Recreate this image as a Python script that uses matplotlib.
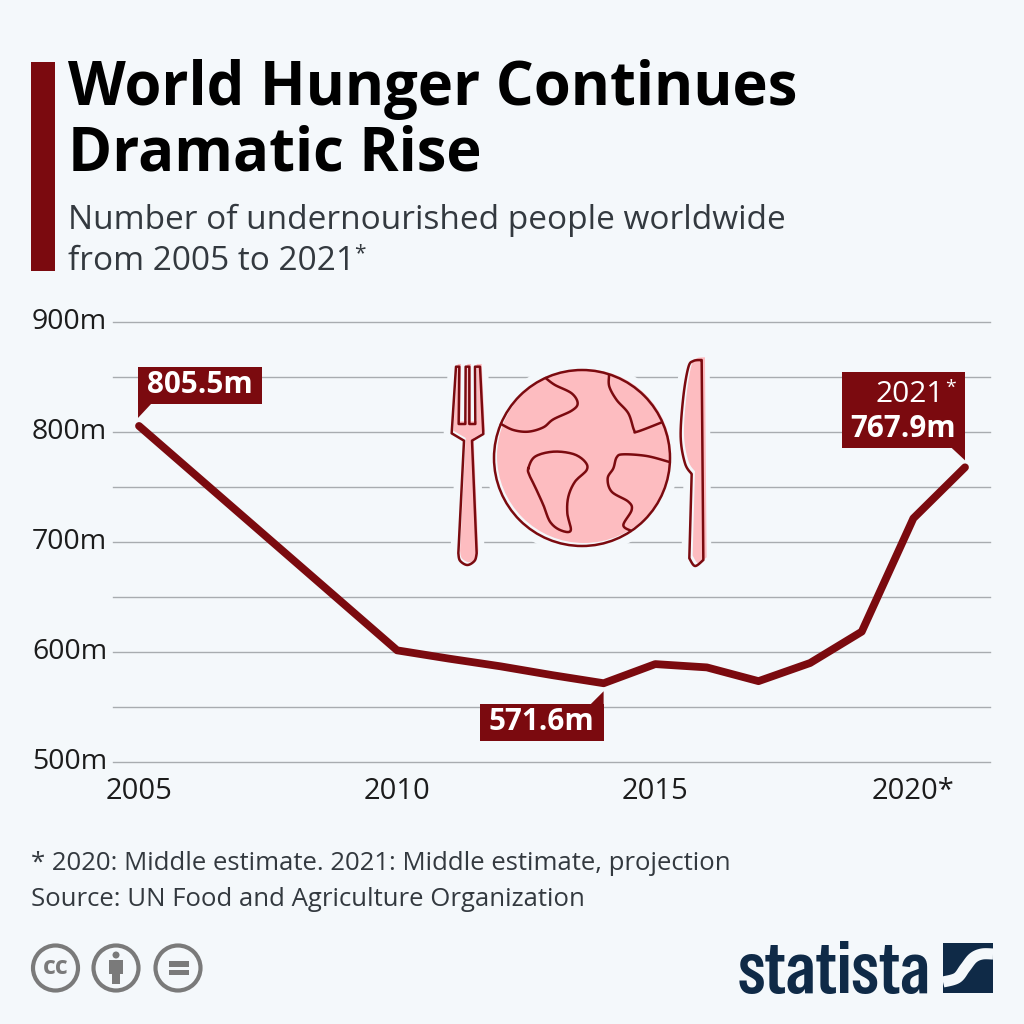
"""World hunger line chart, Statista style."""

import matplotlib

matplotlib.use("Agg")
import numpy as np
from matplotlib import pyplot as plt  # noqa: E402
from matplotlib.patches import Circle, Polygon, Rectangle  # noqa: E402

years = [2005, 2010, 2011, 2012, 2013, 2014, 2015, 2016, 2017, 2018, 2019, 2020, 2021]
undernourished = [805.5, 601.5, 594, 587, 579, 571.6, 589, 586, 573.5, 590, 618.5, 721.5, 767.9]
major_ticks = [500, 600, 700, 800, 900]
minor_ticks = [550, 650, 750, 850]
y_labels = ["500m", "600m", "700m", "800m", "900m"]
x_ticks = [2005, 2010, 2015, 2020]
x_labels = ["2005", "2010", "2015", "2020*"]

BG = "#f4f8fb"
RED = "#7b0a0f"
PINK = "#fdbcc0"
INK = "#1c1c1c"
SUB = "#33393f"
NAVY = "#0f2a47"
GREY = "#7a7a7a"
FONT = "Open Sans"

plt.rcParams["font.family"] = [FONT, "DejaVu Sans"]

fig = plt.figure(figsize=(10.24, 10.24), dpi=100, facecolor=BG)


def fig_rect(left, top, right, bottom):
    return [left / 1024, 1 - bottom / 1024, (right - left) / 1024, (bottom - top) / 1024]


# chart axes, gridlines run from x=113 to x=990
ax = fig.add_axes(fig_rect(113, 322, 990, 762), facecolor="none")
ax.set_xlim(2005 - 26 / 51.6, 2021 + 25 / 51.6)
ax.set_ylim(500, 900)
for spine in ax.spines.values():
    spine.set_visible(False)
ax.set_yticks(major_ticks)
ax.set_yticklabels([])
ax.set_xticks(x_ticks)
ax.set_xticklabels(x_labels, fontsize=21, color=INK)
ax.tick_params(length=0, pad=11)
for value in major_ticks + minor_ticks:
    ax.axhline(value, color="#a8acb0", lw=1.0, zorder=1, clip_on=False)
ax.plot(years, undernourished, color=RED, lw=5.6, solid_joinstyle="round",
        solid_capstyle="round", zorder=5)

# overlay in reference pixels for title block, icon and callouts
over = fig.add_axes([0, 0, 1, 1], facecolor="none", zorder=3)
over.set_xlim(0, 1024)
over.set_ylim(1024, 0)
over.axis("off")


def data_px(year, value):
    x, y = ax.transData.transform((year, value))
    return x, 1024 - y


def smooth(points, closed=False, steps=10):
    """Catmull-Rom curve through the outline points."""
    pts = np.asarray(points, dtype=float)
    if closed:
        pts = np.vstack([pts[-1], pts, pts[0], pts[1]])
    else:
        pts = np.vstack([pts[0], pts, pts[-1]])
    out = []
    for i in range(1, len(pts) - 2):
        p0, p1, p2, p3 = pts[i - 1], pts[i], pts[i + 1], pts[i + 2]
        for t in np.linspace(0, 1, steps, endpoint=False):
            out.append(0.5 * (2 * p1 + (p2 - p0) * t + (2 * p0 - 5 * p1 + 4 * p2 - p3) * t**2
                              + (3 * p1 - p0 - 3 * p2 + p3) * t**3))
    out.append(pts[-2])
    return np.array(out)


def icon(points):
    """Icon outlines were traced on a 3x crop starting at (440, 350)."""
    return np.asarray(points, dtype=float) / 3 + [440, 350]


# title block
over.add_patch(Rectangle((31, 62), 24, 209, color=RED, lw=0))
over.text(68, 89, "World Hunger Continues", fontsize=43, fontweight="bold", color="#000000", va="center")
over.text(68, 155, "Dramatic Rise", fontsize=43, fontweight="bold", color="#000000", va="center")
over.text(68, 220, "Number of undernourished people worldwide", fontsize=24, color=SUB, va="center")
over.text(68, 261, "from 2005 to 2021", fontsize=24, color=SUB, va="center")
over.text(354, 254, "*", fontsize=15, color=SUB, va="center")

# y tick labels sit left of the gridlines
for value, label in zip(major_ticks, y_labels):
    over.text(32, data_px(2005, value)[1], label, fontsize=20.5, color=INK, va="center")

# plate, fork and knife
fork_bottom = smooth([(55, 610), (60, 632), (82, 645), (104, 632), (110, 610)])
fork = icon(np.vstack([[(48, 50), (35, 250), (72, 272)], fork_bottom,
                       [(96, 272), (130, 252), (120, 50), (105, 50), (106, 222), (88, 222), (88, 50),
                        (77, 50), (76, 222), (56, 222), (58, 50)]]))
knife_top = smooth([(785, 30), (760, 33), (745, 52), (730, 140), (722, 260), (735, 340), (755, 372)])
knife_bottom = smooth([(748, 625), (765, 648), (790, 630)])
knife = icon(np.vstack([knife_top, knife_bottom]))
halo = dict(facecolor=BG, edgecolor=BG, lw=11.5, zorder=2)
over.add_patch(Polygon(fork, closed=True, joinstyle="round", **halo))
over.add_patch(Polygon(knife, closed=True, joinstyle="round", **halo))
over.add_patch(Circle((582, 458), 88, **dict(halo, lw=13)))
over.add_patch(Polygon(fork + [1.7, -2.7], closed=True, facecolor=PINK, edgecolor="none", zorder=3))
over.add_patch(Polygon(knife + [3.3, -2.7], closed=True, facecolor=PINK, edgecolor="none", zorder=3))
over.add_patch(Circle((584, 456), 87, facecolor=PINK, edgecolor="none", zorder=3))
outline = dict(facecolor="none", edgecolor=RED, lw=1.8, zorder=4)
over.add_patch(Polygon(fork, closed=True, joinstyle="round", **outline))
over.add_patch(Polygon(knife, closed=True, joinstyle="round", **outline))
over.add_patch(Circle((582, 458), 88, **outline))
land_top_left = [(318, 85), (345, 105), (395, 130), (413, 160), (395, 182), (340, 208), (310, 232),
                 (265, 245), (220, 240), (183, 222)]
land_top_right = [(507, 78), (508, 110), (530, 150), (565, 190), (582, 240), (592, 245), (663, 218)]
land_south = [(265, 355), (285, 320), (340, 305), (400, 312), (435, 335), (440, 360), (405, 395),
              (385, 440), (382, 490), (392, 542), (360, 540), (330, 515), (310, 465), (285, 410),
              (268, 375)]
land_east = [(685, 335), (620, 318), (550, 313), (530, 322), (520, 355), (503, 385), (515, 425),
             (565, 455), (575, 480), (550, 525), (572, 542)]
for land, closed in [(land_top_left, False), (land_top_right, False), (land_south, True), (land_east, False)]:
    curve = icon(smooth(land, closed=closed))
    over.plot(curve[:, 0], curve[:, 1], color=RED, lw=1.8, zorder=4)


def callout(left, top, right, bottom, pointer):
    over.add_patch(Rectangle((left, top), right - left, bottom - top, color=RED, lw=0, zorder=6))
    over.add_patch(Polygon(pointer, closed=True, color=RED, lw=0, zorder=6))


# callouts hang off their data points
x0, y0 = data_px(years[0], undernourished[0])
callout(x0 - 1, y0 - 59, x0 + 123, y0 - 22, [(x0 - 1, y0 - 23), (x0 - 1, y0 - 8), (x0 + 13, y0 - 23)])
over.text(x0 + 61, y0 - 41, "805.5m", fontsize=21.3, fontweight="bold", color="white",
          ha="center", va="center", zorder=7)

x1, y1 = data_px(2014, 571.6)
callout(x1 - 124, y1 + 21, x1, y1 + 58, [(x1, y1 + 22), (x1, y1 + 8), (x1 - 14, y1 + 22)])
over.text(x1 - 62, y1 + 39, "571.6m", fontsize=21.3, fontweight="bold", color="white",
          ha="center", va="center", zorder=7)

x2, y2 = data_px(years[-1], undernourished[-1])
callout(x2 - 123, y2 - 95, x2, y2 - 19, [(x2, y2 - 20), (x2, y2 - 7), (x2 - 14, y2 - 20)])
over.text(x2 - 21, y2 - 73, "2021", fontsize=21.5, color="white", ha="right", va="center", zorder=7)
over.text(x2 - 20, y2 - 79, "*", fontsize=14, color="white", ha="left", va="center", zorder=7)
over.text(x2 - 62, y2 - 38, "767.9m", fontsize=21.3, fontweight="bold", color="white",
          ha="center", va="center", zorder=7)

# footnote and source
over.text(31, 863, "* 2020: Middle estimate. 2021: Middle estimate, projection", fontsize=18.5,
          color=SUB, va="center")
over.text(31, 899, "Source: UN Food and Agriculture Organization", fontsize=18.5, color=SUB, va="center")

# licence badges
for cx in (55.5, 116, 178):
    over.add_patch(Circle((cx, 968), 22.5, facecolor="none", edgecolor=GREY, lw=3))
over.text(55.5, 967, "cc", fontsize=18, fontweight="bold", color=GREY, ha="center", va="center")
over.add_patch(Circle((116, 955), 3.5, color=GREY, lw=0))
over.add_patch(Rectangle((109, 960), 14, 14, color=GREY, lw=0))
over.add_patch(Rectangle((112, 974), 8, 10, color=GREY, lw=0))
over.add_patch(Rectangle((169, 961), 20, 5.5, color=GREY, lw=0))
over.add_patch(Rectangle((169, 969.5), 20, 5.5, color=GREY, lw=0))

# statista logo
over.text(738, 993, "statista", fontsize=54, family=["Special Gothic Condensed One", "Saira Condensed"],
          color=NAVY, va="baseline")
over.add_patch(Rectangle((943, 943), 50, 50, color=NAVY, lw=0))
swoosh = smooth([(943, 982), (957, 978), (965, 968), (973, 958), (982, 954), (993, 954)])
over.plot(swoosh[:, 0], swoosh[:, 1], color=BG, lw=8, solid_capstyle="butt")

fig.savefig("out.png", dpi=100, facecolor=BG)
